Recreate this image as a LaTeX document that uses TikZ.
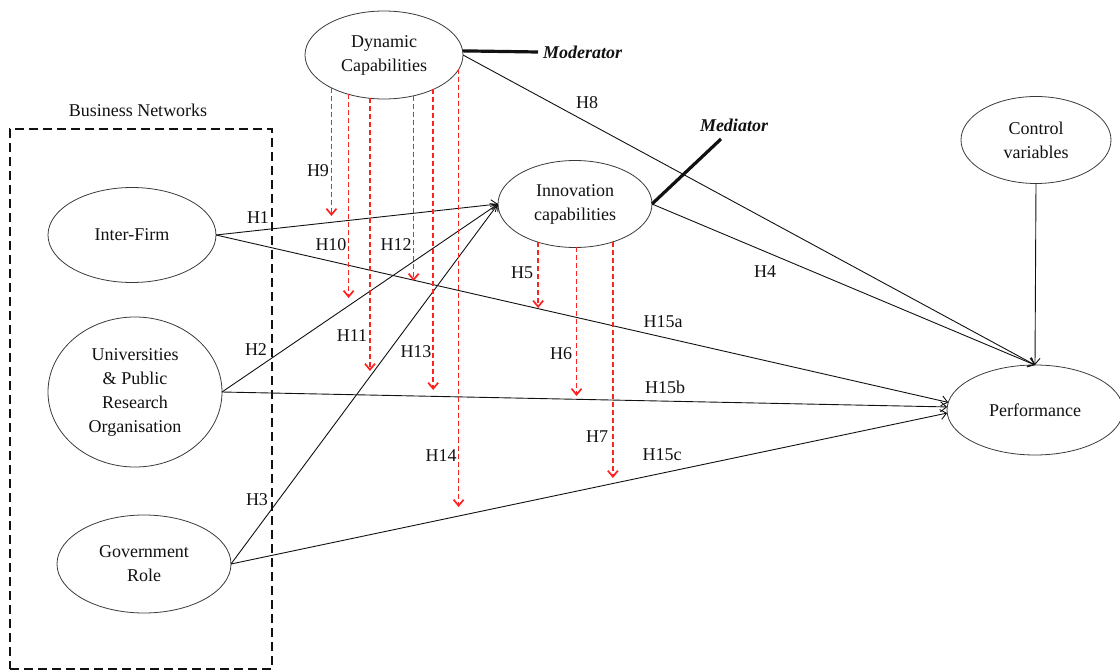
\documentclass[tikz,border=0pt]{standalone}
\usepackage{fontspec}
\setmainfont{Liberation Serif}
\usetikzlibrary{positioning,arrows.meta,shapes.geometric}
\definecolor{inkc}{HTML}{111111}
\definecolor{linec}{HTML}{3A3A3A}
\definecolor{hypc}{HTML}{FF2020}
\tikzset{
  lat/.style ={ellipse,draw=linec,line width=.8pt,inner sep=0pt,outer sep=0pt,
               align=center,font=\fontsize{18}{24}\selectfont,text=inkc},
  lbl/.style ={font=\fontsize{18}{24}\selectfont,text=inkc,inner sep=0pt},
  tag/.style ={lbl,font=\fontsize{18}{24}\selectfont\bfseries\itshape},
  ar/.style  ={-{Straight Barb[length=6pt,width=10pt]},draw=inkc,line width=.9pt},
  arR/.style ={ar,draw=hypc,line width=1.7pt,dash pattern=on 5pt off 3pt},
  thk/.style ={draw=inkc,line width=3.2pt},
  grp/.style ={draw=inkc,line width=1.8pt,dash pattern=on 9pt off 5pt,
               inner sep=0pt,outer sep=0pt},
}
\begin{document}
\begin{tikzpicture}[x=1pt,y=-1pt]
\useasboundingbox (0,0) rectangle (1120,671);

% ============================ constructs ================================
\node[lat,minimum width=158pt,minimum height=88pt] (dyn)  at (384,55)   {Dynamic\\Capabilities};
\node[lat,minimum width=154pt,minimum height=87pt] (inno) at (575,204)  {Innovation\\capabilities};
\node[lat,minimum width=150pt,minimum height=87pt] (ctrl) at (1036,140) {Control\\variables};
\node[lat,minimum width=176pt,minimum height=90pt] (perf) at (1035,410) {Performance};

% ============================ business networks =========================
\node[grp,minimum width=262pt,minimum height=540pt] (bn) at (141,399) {};
\node[lbl] (bnl) at (138,110) {Business Networks};
\node[lat,minimum width=168pt,minimum height=95pt]  (fi)  at (132,235) {Inter-Firm};
\node[lat,minimum width=174pt,minimum height=150pt] (uni) at (135,392) {Universities\\\& Public\\Research\\Organisation};
\node[lat,minimum width=174pt,minimum height=98pt]  (gov) at (144,564) {Government\\Role};

% ============================ moderator / mediator ======================
\coordinate (modr) at (538,52);
\coordinate (medr) at (721,139);
\draw[thk] (dyn.3) -- (modr);
\draw[thk] (inno.east) -- (medr);
\node[tag,right=5pt of modr] (modl) {Moderator};
\node[tag] (medl) at (734,125) {Mediator};

% ============================ direct paths ==============================
\draw[ar] (fi.east)  -- (inno.west);
\draw[ar] (uni.east) -- (inno.west);
\draw[ar] (gov.east) -- (inno.west);
\draw[ar] (fi.east)  -- (perf.175);
\draw[ar] (uni.east) -- (perf.178);
\draw[ar] (gov.east) -- (perf.182);
\draw[ar] (dyn.east) -- (perf.north);
\draw[ar] (inno.east) -- (perf.north);
\draw[ar] (ctrl.south) -- (perf.north);

% ============================ moderating / mediating paths ==============
\coordinate (h9e)  at (332,216);
\coordinate (h10e) at (349,298);
\coordinate (h11e) at (370,371);
\coordinate (h12e) at (414,281);
\coordinate (h13e) at (433,390);
\coordinate (h14e) at (459,507);
\coordinate (h5e)  at (538,308);
\coordinate (h6e)  at (577,396);
\coordinate (h7e)  at (613,478);
\draw[arR] (dyn.212) -- (dyn.212 |- h9e);
\draw[arR] (dyn.228) -- (dyn.228 |- h10e);
\draw[arR] (dyn.252) -- (dyn.252 |- h11e);
\draw[arR] (dyn.306) -- (dyn.306 |- h12e);
\draw[arR] (dyn.325) -- (dyn.325 |- h13e);
\draw[arR] (dyn.349) -- (dyn.349 |- h14e);
\draw[arR] (inno.226) -- (inno.226 |- h5e);
\draw[arR] (inno.272) -- (inno.272 |- h6e);
\draw[arR] (inno.315) -- (inno.315 |- h7e);

% ============================ hypothesis labels =========================
\node[lbl] (lh1)   at (258,218) {H1};
\node[lbl] (lh2)   at (256,350) {H2};
\node[lbl] (lh3)   at (257,500) {H3};
\node[lbl] (lh4)   at (765,272) {H4};
\node[lbl] (lh5)   at (522,273) {H5};
\node[lbl] (lh6)   at (561,354) {H6};
\node[lbl] (lh7)   at (597,437) {H7};
\node[lbl] (lh8)   at (587,103) {H8};
\node[lbl] (lh9)   at (318,171) {H9};
\node[lbl] (lh10)  at (331,245) {H10};
\node[lbl] (lh11)  at (352,336) {H11};
\node[lbl] (lh12)  at (396,245) {H12};
\node[lbl] (lh13)  at (416,352) {H13};
\node[lbl] (lh14)  at (441,456) {H14};
\node[lbl] (lh15a) at (663,322) {H15a};
\node[lbl] (lh15b) at (665,387) {H15b};
\node[lbl] (lh15c) at (662,455) {H15c};
\end{tikzpicture}
\end{document}
